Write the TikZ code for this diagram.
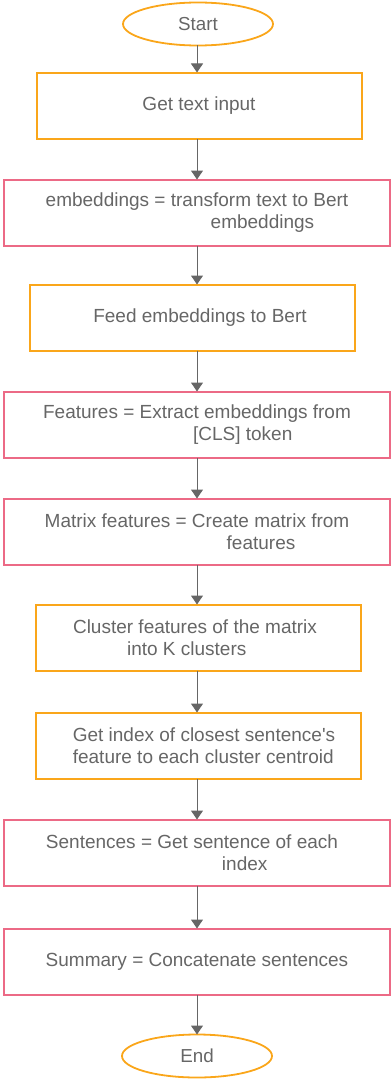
\documentclass[tikz,border=0pt]{standalone}
\usepackage{fontspec}
\setmainfont{Liberation Sans}
\usepackage{tikz}
\usetikzlibrary{positioning,shapes.geometric,arrows.meta}
\definecolor{boxorange}{HTML}{FAA61A}
\definecolor{boxpink}{HTML}{EC6A86}
\definecolor{flowgray}{HTML}{666666}
\tikzstyle{terminal} = [ellipse, draw=boxorange, line width=1.8pt, outer sep=0pt, minimum width=150pt, minimum height=43pt, text=flowgray, font=\fontsize{18.8}{22}\selectfont]
\tikzstyle{squaredo} = [rectangle, draw=boxorange, line width=2pt, outer sep=0pt, minimum width=325pt, minimum height=66pt, align=left, text=flowgray, font=\fontsize{19}{22}\selectfont]
\tikzstyle{squaredp} = [rectangle, draw=boxpink, line width=2pt, outer sep=0pt, minimum width=386pt, minimum height=66pt, align=left, text=flowgray, font=\fontsize{19}{22}\selectfont]
\tikzstyle{connect} = [line width=1pt, draw=flowgray, -{Triangle[width=12pt,length=9pt]}]

\begin{document}
\begin{tikzpicture}[x=1pt, y=-1pt, node distance=41pt]
			\useasboundingbox (0,0) rectangle (391,1081);
			\node (start) [terminal] at (198,24) {Start};
			\node (input) [squaredo, below=27pt of start, xshift=1pt] {Get text input};
			\node (embed) [squaredp, below=of input, xshift=-2pt] {embeddings = transform text to Bert\\\hspace*{165pt}embeddings};
			\node (feed) [squaredo, below=39pt of embed, xshift=-5pt] {\hspace*{16pt}Feed embeddings to Bert};
			\node (feat) [squaredp, below=of feed, xshift=5pt] {Features = Extract embeddings from\\\hspace*{150pt}[CLS] token};
			\node (matrix) [squaredp, below=of feat] {Matrix features = Create matrix from\\\hspace*{182pt}features};
			\node (cluster) [squaredo, below=40pt of matrix, xshift=1pt] {Cluster features of the matrix\hspace*{6pt}\\\hspace*{54pt}into K clusters};
			\node (closest) [squaredo, below=42pt of cluster] {\hspace*{12pt}Get index of closest sentence\textquotesingle s\\\hspace*{12pt}feature to each cluster centroid};
			\node (sent) [squaredp, below=41pt of closest, xshift=-1pt] {Sentences = Get sentence of each\hspace*{10pt}\\\hspace*{176pt}index};
			\node (summary) [squaredp, below=43pt of sent] {Summary = Concatenate sentences};
			\node (end) [terminal, below=40pt of summary] {End};

			\draw [connect] (start.south -| summary) -- (summary |- input.north);
			\draw [connect] (input.south -| summary) -- (embed);
			\draw [connect] (embed) -- (embed |- feed.north);
			\draw [connect] (feed.south -| feat) -- (feat);
			\draw [connect] (feat) -- (matrix);
			\draw [connect] (matrix.south -| summary) -- (summary |- cluster.north);
			\draw [connect] (cluster.south -| summary) -- (summary |- closest.north);
			\draw [connect] (closest.south -| summary) -- (sent.north -| summary);
			\draw [connect] (sent.south -| summary) -- (summary);
			\draw [connect] (summary) -- (summary |- end.north);
			\end{tikzpicture}
\end{document}
